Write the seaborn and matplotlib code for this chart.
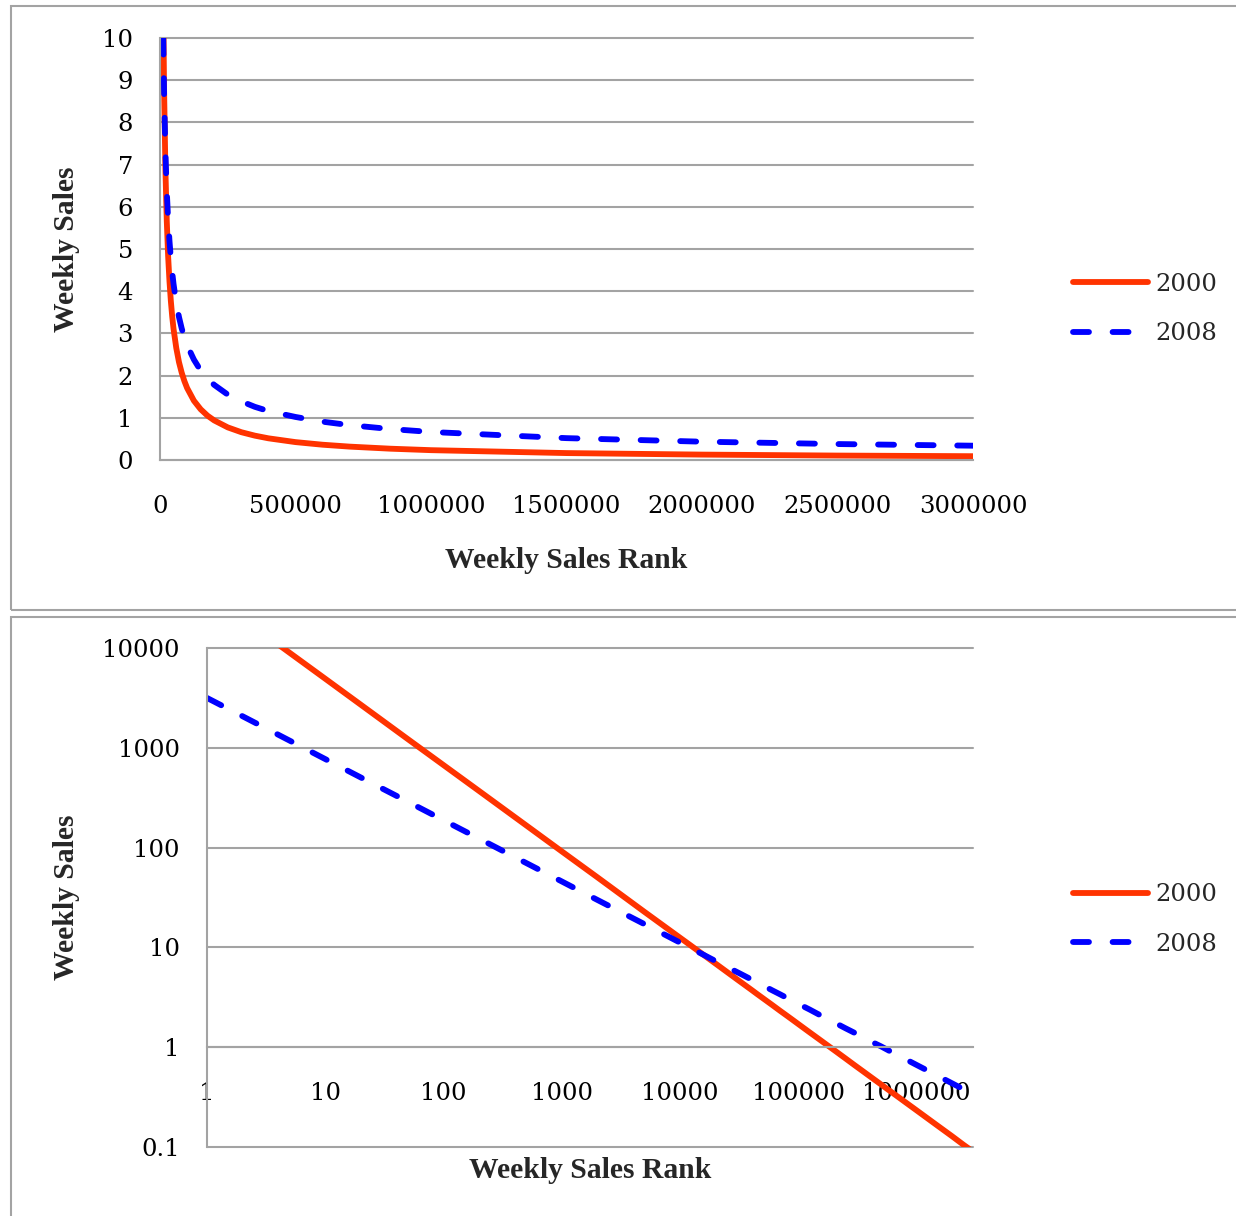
import matplotlib
matplotlib.use("Agg")
import matplotlib.pyplot as plt
import matplotlib.patches as patches
import seaborn as sns
import pandas as pd

# values (weekly sales rank -> weekly sales)
RANKS = [1, 2, 5, 10, 20, 50, 100, 200, 500, 1000, 2000, 5000, 10000, 12000,
         15000, 20000, 25000, 30000, 35000, 40000, 45000, 50000, 60000, 70000,
         80000, 90000, 100000, 125000, 150000, 175000, 200000, 250000, 300000,
         350000, 400000, 500000, 600000, 700000, 850000, 1000000, 1500000,
         2000000, 2500000, 3000000]
SALES_2000 = [36000, 19800, 8950, 4920, 2700, 1220, 671, 369, 167, 91.6, 50.4,
              22.7, 12.5, 10.69, 8.81, 6.87, 5.66, 4.83, 4.23, 3.77, 3.40,
              3.105, 2.655, 2.32, 2.07, 1.87, 1.706, 1.406, 1.202, 1.052,
              0.938, 0.773, 0.659, 0.577, 0.514, 0.424, 0.362, 0.317, 0.268,
              0.233, 0.164, 0.128, 0.105, 0.090]
SALES_2008 = [3160, 2070, 1180, 771, 504, 288, 188, 123, 70.1, 45.8, 29.9, 17.1,
              11.17, 9.99, 8.71, 7.29, 6.37, 5.70, 5.19, 4.78, 4.45, 4.17, 3.72,
              3.39, 3.12, 2.90, 2.72, 2.38, 2.12, 1.93, 1.78, 1.55, 1.39, 1.26,
              1.16, 1.02, 0.908, 0.826, 0.734, 0.664, 0.518, 0.434, 0.378, 0.339]
YEARS = ["2000", "2008"]

LIN_RANK_TICKS = [0, 500000, 1000000, 1500000, 2000000, 2500000, 3000000]
LIN_SALES_TICKS = [0, 1, 2, 3, 4, 5, 6, 7, 8, 9, 10]
LOG_RANK_TICKS = [1, 10, 100, 1000, 10000, 100000, 1000000]
LOG_RANK_LABELS = ["1", "10", "100", "1000", "10000", "100000", "1000000"]
LOG_SALES_TICKS = [0.1, 1, 10, 100, 1000, 10000]
LOG_SALES_LABELS = ["0.1", "1", "10", "100", "1000", "10000"]

RED = "#ff3300"
BLUE = "#0000ff"
GRID = "#a3a3a3"
W, H = 1236, 1216

sns.set_style("white")
plt.rcParams["font.family"] = ["DejaVu Serif"]
plt.rcParams["lines.scale_dashes"] = False

df = pd.DataFrame({
    "rank": RANKS * 2,
    "sales": SALES_2000 + SALES_2008,
    "year": [YEARS[0]] * len(RANKS) + [YEARS[1]] * len(RANKS),
})

fig = plt.figure(figsize=(W / 100, H / 100), dpi=100)

# panel frames
fig.add_artist(patches.Rectangle((11 / W, 1 - 610 / H), 1.1, (610 - 6) / H,
                                 transform=fig.transFigure, fill=False,
                                 edgecolor=GRID, lw=1.5))
fig.add_artist(patches.Rectangle((11 / W, -0.05), 1.1, (H - 617) / H + 0.05,
                                 transform=fig.transFigure, fill=False,
                                 edgecolor=GRID, lw=1.5))

ax1 = fig.add_axes([160 / W, 1 - 460 / H, 813 / W, 422 / H])
ax2 = fig.add_axes([207 / W, 1 - 1147 / H, 766 / W, 499 / H])

label_font = {"family": "Liberation Serif", "weight": "bold", "size": 21.3}

for ax in (ax1, ax2):
    sns.lineplot(data=df, x="rank", y="sales", hue="year", style="year",
                 palette={YEARS[0]: RED, YEARS[1]: BLUE},
                 dashes={YEARS[0]: "", YEARS[1]: (11.5, 17)},
                 lw=4.2, errorbar=None, legend=False, ax=ax)
    for line in ax.lines:
        line.set_dash_capstyle("round")
        line.set_solid_capstyle("round")
        line.set_solid_joinstyle("round")
    for side in ("top", "right"):
        ax.spines[side].set_visible(False)
    for side in ("left", "bottom"):
        ax.spines[side].set_color(GRID)
        ax.spines[side].set_linewidth(1.5)
    ax.tick_params(colors=GRID, width=1.5, length=6, labelcolor="black",
                   labelsize=17.5)
    ax.tick_params(axis="y", pad=13.5)
    ax.tick_params(axis="x", pad=19)
    ax.yaxis.grid(True, color=GRID, lw=1.5)
    ax.xaxis.grid(False)
    ax.set_axisbelow(True)
    ax.set_ylabel("Weekly Sales", fontdict=label_font, va="center")
    ax.set_xlabel("Weekly Sales Rank", fontdict=label_font, va="center")
    ax.legend(handles=ax.lines[:2], labels=YEARS, loc="center left",
              frameon=False, fontsize=17.5, handlelength=3.1,
              handletextpad=0.3, labelspacing=1.1, borderpad=0,
              borderaxespad=0, bbox_transform=fig.transFigure,
              bbox_to_anchor=(1073 / W, 1 - (309 if ax is ax1 else 919.5) / H))

# top: linear axes
ax1.set_xlim(0, 3000000)
ax1.set_ylim(0, 10)
ax1.set_xticks(LIN_RANK_TICKS, labels=[str(v) for v in LIN_RANK_TICKS])
ax1.set_yticks(LIN_SALES_TICKS, labels=[str(v) for v in LIN_SALES_TICKS])
ax1.yaxis.set_label_coords((67 - 160) / 813, 0.5)
ax1.xaxis.set_label_coords(0.5, (460 - 560) / 422)

# bottom: log-log axes, x axis crossing at 1
ax2.set_xscale("log")
ax2.set_yscale("log")
ax2.set_xlim(1, 3000000)
ax2.set_ylim(0.1, 10000)
ax2.set_xticks(LOG_RANK_TICKS, labels=LOG_RANK_LABELS)
ax2.set_yticks(LOG_SALES_TICKS, labels=LOG_SALES_LABELS)
ax2.minorticks_off()
ax2.spines["bottom"].set_position(("data", 1))
ax2.yaxis.set_label_coords((67 - 207) / 766, 0.5)
ax2.xaxis.set_label_coords(0.5, (1147 - 1170) / 499)

for ax in (ax1, ax2):
    for g in ax.get_ygridlines():
        g.set_clip_on(False)

fig.savefig("out.png", dpi=100)
